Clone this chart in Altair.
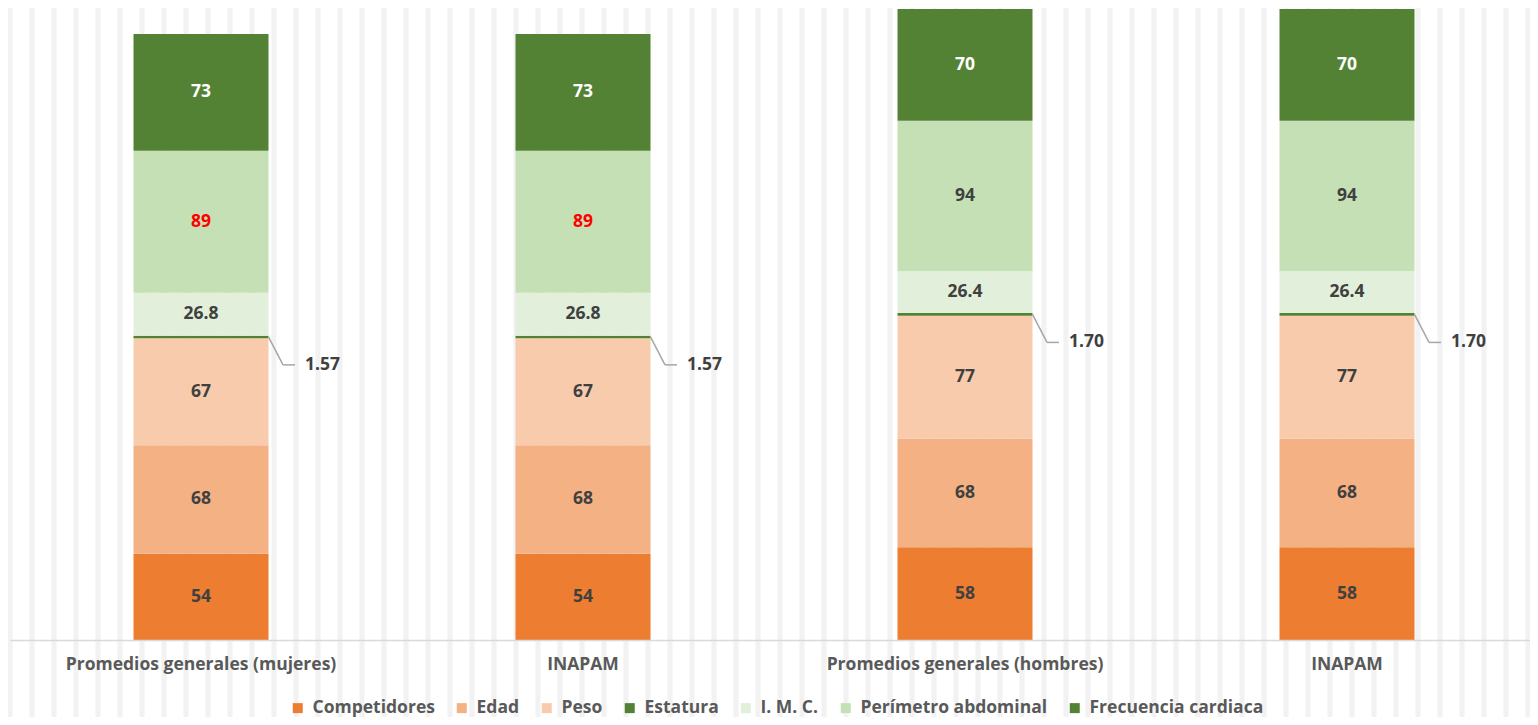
import altair as alt
import pandas as pd

# ---- data ----
group_keys = ["m_general", "m_inapam", "h_general", "h_inapam"]
group_labels = ["Promedios generales (mujeres)", "INAPAM", "Promedios generales (hombres)", "INAPAM"]
series = ["Competidores", "Edad", "Peso", "Estatura", "I. M. C.", "Perímetro abdominal", "Frecuencia cardiaca"]
colors = ["#ED7D31", "#F4B183", "#F8CBAD", "#548235", "#E2EFDA", "#C5E0B4", "#548235"]

competidores = [54, 54, 58, 58]
edad = [68, 68, 68, 68]
peso = [67, 67, 77, 77]
estatura = [1.57, 1.57, 1.70, 1.70]
imc = [26.8, 26.8, 26.4, 26.4]
perimetro = [89, 89, 94, 94]
frecuencia = [73, 73, 70, 70]
decimals = [0, 0, 0, 2, 1, 0, 0]

values_by_series = [competidores, edad, peso, estatura, imc, perimetro, frecuencia]
rows = []
for gi, key in enumerate(group_keys):
    base = 0.0
    for si, name in enumerate(series):
        v = values_by_series[si][gi]
        rows.append(dict(key=key, series=name, order=si, value=v,
                         y0=base, y1=base + v, ymid=base + v / 2,
                         label=f"{v:.{decimals[si]}f}"))
        base += v
df = pd.DataFrame(rows)

FONT = "Open Sans"
FS = 17.5
W, H = 1520, 632
BAND_RANGE = 1528
STRIPE = 22

label_expr = "[" + ",".join(f"'{l}'" for l in group_labels) + "][indexof([" + \
    ",".join(f"'{k}'" for k in group_keys) + "], datum.value)]"

x_enc = alt.X("key:N", sort=group_keys,
              scale=alt.Scale(paddingInner=0, paddingOuter=0, range=[0, BAND_RANGE]),
              axis=alt.Axis(title=None, labelAngle=0, ticks=False, labelExpr=label_expr,
                            labelFont=FONT, labelFontSize=FS, labelFontWeight="bold",
                            labelColor="#595959", labelPadding=15, labelLimit=500,
                            domainColor="#D9D9D9", domainWidth=1.5, grid=False, zindex=2))
y_scale = alt.Scale(domain=[0, 395.7], nice=False, zero=True)

base = alt.Chart(df)

bars = base.mark_bar(size=135).encode(
    x=x_enc,
    y=alt.Y("y0:Q", scale=y_scale, axis=None),
    y2="y1:Q",
    color=alt.Color("series:N", scale=alt.Scale(domain=series, range=colors),
                    legend=alt.Legend(title=None, orient="none", legendX=279, legendY=691,
                                      direction="horizontal", symbolType="square",
                                      symbolSize=100, symbolStrokeWidth=0,
                                      labelFont=FONT, labelFontSize=FS, labelFontWeight="bold",
                                      labelColor="#595959", columnPadding=18, labelOffset=6,
                                      labelLimit=400, zindex=2)),
    order=alt.Order("order:Q"),
)

inside_labels = base.transform_filter(
    "datum.series != 'Estatura'"
).transform_calculate(
    tc="datum.series == 'Frecuencia cardiaca' ? '#FFFFFF' : "
       "((datum.series == 'Perímetro abdominal' && indexof(['m_general','m_inapam'], datum.key) >= 0) ? '#FF0000' : '#404040')"
).mark_text(font=FONT, fontSize=FS, fontWeight="bold", baseline="middle").encode(
    x=alt.X("key:N", sort=group_keys),
    y=alt.Y("ymid:Q"),
    text="label:N",
    color=alt.Color("tc:N", scale=None),
)

est = base.transform_filter("datum.series == 'Estatura'")
leader_diag = est.mark_rule(color="#A6A6A6", strokeWidth=1.5, xOffset=67.5, x2Offset=82,
                            yOffset=0, y2Offset=28).encode(
    x=alt.X("key:N", sort=group_keys), x2=alt.X2("key"), y="ymid:Q", y2="ymid:Q")
leader_h = est.mark_rule(color="#A6A6A6", strokeWidth=1.5, xOffset=82, x2Offset=94,
                         yOffset=28, y2Offset=28).encode(
    x=alt.X("key:N", sort=group_keys), x2=alt.X2("key"), y="ymid:Q", y2="ymid:Q")
est_label = est.mark_text(font=FONT, fontSize=FS, fontWeight="bold", align="left",
                          baseline="middle", dx=104, dy=28, color="#404040").encode(
    x=alt.X("key:N", sort=group_keys), y="ymid:Q", text="label:N")

main = alt.layer(bars, inside_labels, leader_diag, leader_h, est_label)

stripes = alt.Chart(alt.sequence(0, 70, as_="i")).mark_rule(color="#F2F2F2", strokeWidth=5).encode(
    x=alt.X("i:Q", scale=alt.Scale(domain=[0, W / STRIPE], nice=False, zero=False), axis=None),
    y=alt.value(0), y2=alt.value(720),
)

chart = alt.layer(stripes, main).resolve_scale(x="independent").properties(
    width=W, height=H, padding={"left": 2, "top": 0, "right": 0, "bottom": 77},
    autosize=alt.AutoSizeParams(type="none"),
    background="#FFFFFF",
).configure_view(stroke=None)

chart.save("out.html", embed_options={"renderer": "svg", "actions": False})
